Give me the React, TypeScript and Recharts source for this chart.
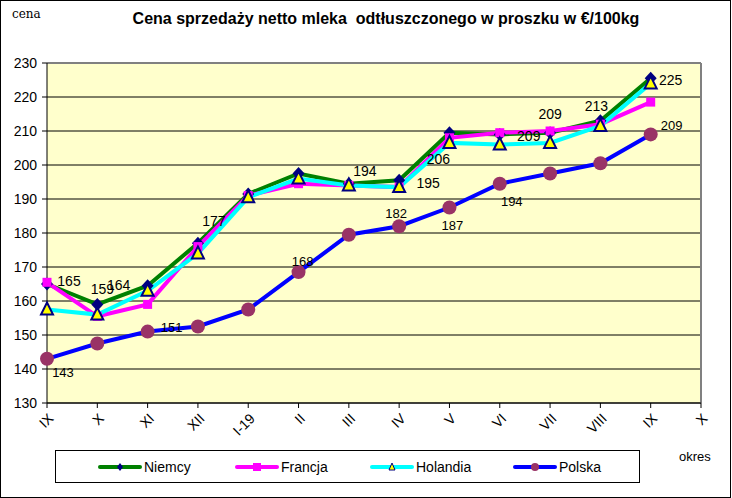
import React from "react";
import {
  LineChart,
  Line,
  XAxis,
  YAxis,
  CartesianGrid,
  ReferenceLine,
  LabelList,
} from "recharts";

const months = ["IX", "X", "XI", "XII", "I-19", "II", "III", "IV", "V", "VI", "VII", "VIII", "IX", "X"];
const yTicks = [130, 140, 150, 160, 170, 180, 190, 200, 210, 220, 230];

const niemcy = [165, 159, 164.5, 177, 191.5, 197.5, 194.5, 195.5, 209.5, 209, 209.5, 213, 225.5];
const francja = [165.5, 155.5, 159, 176, 191, 194.5, 194, 193.5, 208, 209.5, 210, 212, 218.5];
const holandia = [157.5, 156, 163, 174, 190.5, 196, 194, 193.5, 206.5, 206, 206.5, 211.5, 224];
const polska = [143, 147.5, 151, 152.5, 157.5, 168.5, 179.5, 182, 187.5, 194.5, 197.5, 200.5, 209];

const niemcyLabels = ["165", "159", "164", "177", "", "", "194", "195", "206", "209", "209", "213", "225"];
const polskaLabels = ["143", "", "151", "", "", "168", "", "182", "187", "194", "", "", "209"];

// label placement relative to the point (dx, dy), like Excel left them
const niemcyLabelPos: Record<number, [number, number]> = {
  0: [22, -3], 1: [5, -15], 2: [-29, -1], 3: [16, -22], 6: [16, -13], 7: [29, 3],
  8: [-11, 26], 9: [29, 2], 10: [0, -19], 11: [-4, -15], 12: [20, 2],
};
const polskaLabelPos: Record<number, [number, number]> = {
  0: [16, 14], 2: [24, -4], 5: [4, -11], 7: [-3, -13], 8: [3, 18], 9: [12, 18], 12: [21, -9],
};

const data = niemcy.map((_, i) => ({
  i,
  niemcy: niemcy[i],
  francja: francja[i],
  holandia: holandia[i],
  polska: polska[i],
}));

const FONT = "Arial, 'Liberation Sans', sans-serif";

const Diamond = ({ cx, cy }: any) =>
  cx == null ? null : (
    <polygon points={`${cx},${cy - 6.5} ${cx + 6},${cy} ${cx},${cy + 6.5} ${cx - 6},${cy}`} fill="#000080" />
  );
const Square = ({ cx, cy }: any) =>
  cx == null ? null : <rect x={cx - 4.5} y={cy - 4.5} width={9} height={9} fill="#FF00FF" />;
const Triangle = ({ cx, cy }: any) =>
  cx == null ? null : (
    <polygon
      points={`${cx},${cy - 7} ${cx + 6},${cy + 5} ${cx - 6},${cy + 5}`}
      fill="#FFFF00"
      stroke="#000080"
      strokeWidth={2}
    />
  );
const Circle = ({ cx, cy }: any) =>
  cx == null ? null : <circle cx={cx} cy={cy} r={7} fill="#993366" />;

const MonthTick = ({ x, y, payload }: any) => (
  <g transform={`translate(${x + 4},${y + 6})`}>
    <text textAnchor="end" transform="rotate(-45)" fontSize={14} fontFamily={FONT} fill="#000" dy="0.35em">
      {months[payload.value]}
    </text>
  </g>
);

const makeLabel = (labels: string[], pos: Record<number, [number, number]>, size: number) => (props: any) => {
  const { x, y, index } = props;
  const t = labels[index];
  if (!t || !pos[index]) return null;
  const [dx, dy] = pos[index];
  return (
    <text x={x + dx} y={y + dy} textAnchor="middle" dominantBaseline="central" fontSize={size} fontFamily={FONT} fill="#000">
      {t}
    </text>
  );
};

const legendItems = [
  { name: "Niemcy", color: "#008000", left: 98, marker: "diamond" },
  { name: "Francja", color: "#FF00FF", left: 235, marker: "square" },
  { name: "Holandia", color: "#00FFFF", left: 370, marker: "triangle" },
  { name: "Polska", color: "#0000FF", left: 513, marker: "circle" },
];

const LegendIcon = ({ color, marker }: { color: string; marker: string }) => (
  <svg width={44} height={12} style={{ display: "block" }}>
    <line x1={2} y1={6} x2={42} y2={6} stroke={color} strokeWidth={4} strokeLinecap="round" />
    {marker === "diamond" && <polygon points="22,2 25,6 22,10 19,6" fill="#000080" />}
    {marker === "square" && <rect x={18} y={2} width={8} height={8} fill="#FF00FF" />}
    {marker === "triangle" && <polygon points="22,2 25,9 19,9" fill="#FFFF00" stroke="#000080" strokeWidth={1} />}
    {marker === "circle" && <circle cx={22} cy={6} r={4} fill="#993366" />}
  </svg>
);

export default function App() {
  return (
    <div style={{ position: "absolute", left: 0, top: 0, width: 732, height: 498, background: "#fff", fontFamily: FONT }}>
      <div style={{ position: "absolute", left: 0, top: 0, width: 729, height: 496, border: "1px solid #000" }} />
      <div style={{ position: "absolute", left: 12, top: 7, fontFamily: "'DejaVu Serif', 'Liberation Serif', serif", fontSize: 12 }}>
        cena
      </div>
      <div style={{ position: "absolute", left: 0, width: 772, top: 10, textAlign: "center", fontWeight: "bold", fontSize: 16 }}>
        Cena sprzedaży netto mleka&nbsp; odtłuszczonego w proszku w €/100kg
      </div>
      <div style={{ position: "absolute", left: 0, top: 0 }}>
        <LineChart width={732} height={498} data={data} margin={{ top: 63, right: 31, bottom: 65, left: 0 }}>
          <CartesianGrid horizontal vertical={false} stroke="#000" strokeOpacity={1} fill="#FFFFCC" fillOpacity={1} />
          <XAxis
            type="number"
            dataKey="i"
            domain={[0, 13]}
            ticks={months.map((_, i) => i)}
            interval={0}
            height={30}
            tick={<MonthTick />}
            tickSize={5}
            axisLine={{ stroke: "#000" }}
            tickLine={{ stroke: "#000" }}
          />
          <YAxis
            domain={[130, 230]}
            ticks={yTicks}
            interval={0}
            width={47}
            tickSize={5}
            tickMargin={5}
            axisLine={{ stroke: "#000" }}
            tickLine={{ stroke: "#000" }}
            tick={{ fill: "#000", fontSize: 14, fontFamily: FONT }}
          />
          <ReferenceLine y={230} stroke="#808080" strokeWidth={2} />
          <ReferenceLine x={13} stroke="#808080" strokeWidth={2} />
          <Line dataKey="niemcy" stroke="#008000" strokeWidth={4} dot={<Diamond />} isAnimationActive={false}>
            <LabelList content={makeLabel(niemcyLabels, niemcyLabelPos, 14)} />
          </Line>
          <Line dataKey="francja" stroke="#FF00FF" strokeWidth={4} dot={<Square />} isAnimationActive={false} />
          <Line dataKey="holandia" stroke="#00FFFF" strokeWidth={4} dot={<Triangle />} isAnimationActive={false} />
          <Line dataKey="polska" stroke="#0000FF" strokeWidth={4} dot={<Circle />} isAnimationActive={false}>
            <LabelList content={makeLabel(polskaLabels, polskaLabelPos, 13)} />
          </Line>
        </LineChart>
      </div>
      <div
        style={{
          position: "absolute",
          left: 55,
          top: 450,
          width: 583,
          height: 31,
          border: "1px solid #000",
          background: "#fff",
        }}
      >
        {legendItems.map((it) => (
          <div
            key={it.name}
            style={{ position: "absolute", left: it.left - 56, top: 8, display: "flex", alignItems: "center", fontSize: 14 }}
          >
            <LegendIcon color={it.color} marker={it.marker} />
            <span style={{ marginLeft: 2 }}>{it.name}</span>
          </div>
        ))}
      </div>
      <div style={{ position: "absolute", left: 679, top: 449, fontSize: 13 }}>okres</div>
    </div>
  );
}
